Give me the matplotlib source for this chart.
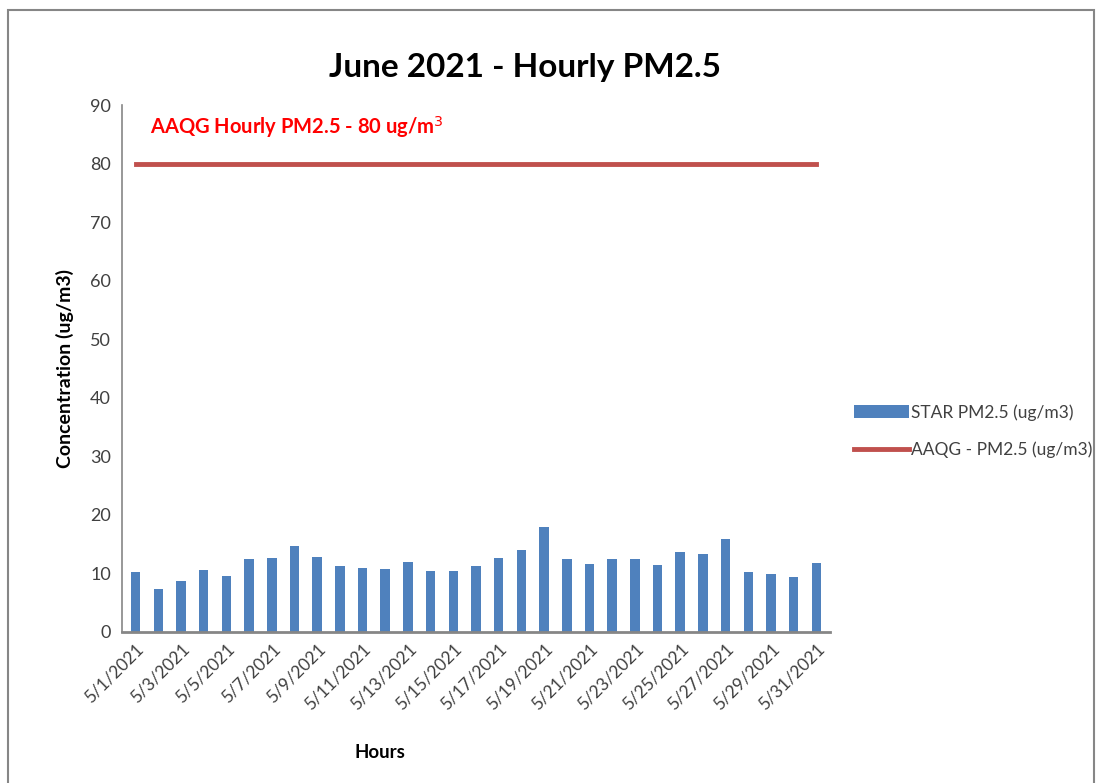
import numpy as np
import matplotlib.pyplot as plt
from matplotlib.patches import Rectangle

plt.rcParams['font.family'] = ['Lato', 'DejaVu Sans']

# daily values
dates = [f"5/{d}/2021" for d in range(1, 32)]
star_pm25 = [10.3, 7.3, 8.7, 10.6, 9.6, 12.5, 12.6, 14.7, 12.8, 11.3,
             10.9, 10.7, 12.0, 10.4, 10.4, 11.3, 12.6, 14.0, 18.0, 12.5,
             11.6, 12.5, 12.5, 11.4, 13.7, 13.3, 15.9, 10.3, 9.9, 9.4, 11.8]
aaqg_limit = [80] * len(dates)
yticks = list(range(0, 100, 10))

fig = plt.figure(figsize=(10.96, 7.83), dpi=100)
ax = fig.add_axes([122 / 1096, 1 - 632 / 783, (830 - 122) / 1096, (632 - 105) / 783])

# outer chart border
fig.patches.append(Rectangle((8 / 1096, -0.01), (1094 - 8) / 1096, 1 - 10 / 783 + 0.01,
                             transform=fig.transFigure, fill=False,
                             edgecolor='#868686', linewidth=1.5))

x = np.arange(len(dates))
bars = ax.bar(x, star_pm25, width=0.42, color='#4F81BD', label='STAR PM2.5 (ug/m3)')
line, = ax.plot(x, aaqg_limit, color='#C0504D', linewidth=3.5, label='AAQG - PM2.5 (ug/m3)')

ax.set_xlim(-0.6, len(dates) - 0.4)
ax.set_ylim(0, 90)
ax.set_yticks(yticks)
ax.set_yticklabels([str(v) for v in yticks], fontsize=13, color='#404040')
ax.set_xticks(x[::2])
ax.set_xticklabels(dates[::2], rotation=45, ha='right', va='top',
                   rotation_mode='anchor', fontsize=12.5, color='#404040')
ax.tick_params(axis='both', length=0, pad=8)
ax.tick_params(axis='x', pad=6)

for s in ['top', 'right']:
    ax.spines[s].set_visible(False)
ax.spines['left'].set_color('#868686')
ax.spines['bottom'].set_color('#868686')
ax.spines['bottom'].set_linewidth(2)
ax.spines['left'].set_linewidth(1.2)

fig.text(525 / 1096, 1 - 68 / 783, 'June 2021 - Hourly PM2.5', ha='center', va='center',
         fontsize=24, fontweight='bold')
fig.text(150 / 1096, 1 - 127 / 783, 'AAQG Hourly PM2.5 - 80 ug/m$^3$', ha='left', va='center',
         fontsize=14.5, fontweight='bold', color='#FF0000')
fig.text(65 / 1096, 1 - 369 / 783, 'Concentration (ug/m3)', rotation=90, ha='center',
         va='center', fontsize=14, fontweight='bold')
fig.text(380 / 1096, 1 - 752 / 783, 'Hours', ha='center', va='center',
         fontsize=13.5, fontweight='bold')

fig.legend([bars, line], [bars.get_label(), line.get_label()],
           loc='center left', bbox_to_anchor=(838 / 1096, 1 - 431 / 783), frameon=False,
           fontsize=12.5, handlelength=3.2, handletextpad=0.1, labelspacing=1.2,
           labelcolor='#404040')

fig.savefig('out.png', dpi=100)
